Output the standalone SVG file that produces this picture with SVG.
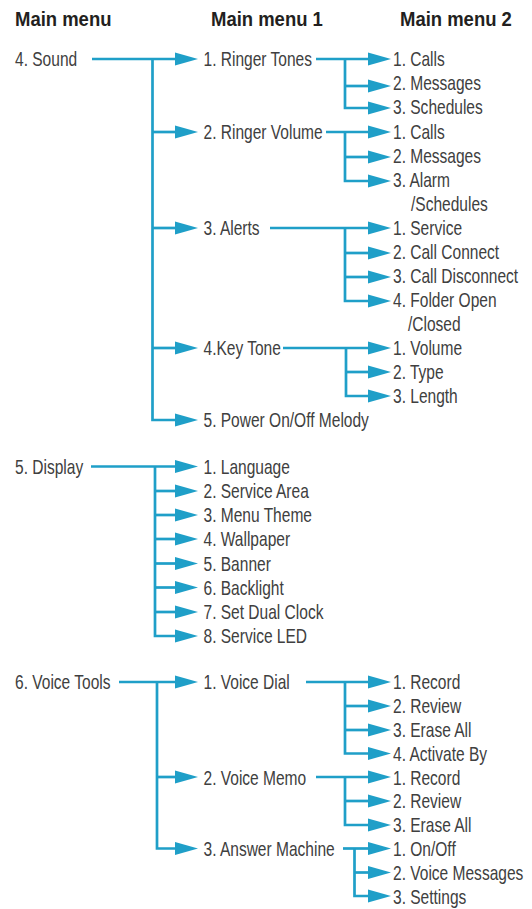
<svg xmlns="http://www.w3.org/2000/svg" width="532" height="909" viewBox="0 0 532 909">
<defs>
<marker id="ah" markerUnits="userSpaceOnUse" markerWidth="24" markerHeight="14" refX="0" refY="6.5" orient="auto" overflow="visible">
<path d="M0,0 L23,6.5 L0,13 Z" fill="#1f9fc8"/>
</marker>
<style>
.c{fill:none;stroke:#1f9fc8;stroke-width:2.7;stroke-linejoin:miter}
.a{marker-end:url(#ah)}
.t{font-family:"Liberation Sans",Arial,sans-serif;font-size:20.5px;fill:#404040}
.h{font-family:"Liberation Sans",Arial,sans-serif;font-size:21px;font-weight:bold;fill:#231f20}
</style>
</defs>
<rect width="532" height="909" fill="#ffffff"/>
<g id="connectors">
<path class="c a" d="M92,59 H175"/>
<path class="c a" d="M152.5,59 V420 H175"/>
<path class="c a" d="M152.5,132 H175"/>
<path class="c a" d="M152.5,228 H175"/>
<path class="c a" d="M152.5,348 H175"/>
<path class="c a" d="M316,59 H368"/>
<path class="c a" d="M345,59 V108 H368"/>
<path class="c a" d="M345,86 H368"/>
<path class="c a" d="M326,132 H368"/>
<path class="c a" d="M345,132 V181 H368"/>
<path class="c a" d="M345,157 H368"/>
<path class="c a" d="M270,228 H368"/>
<path class="c a" d="M345,228 V301 H368"/>
<path class="c a" d="M345,253 H368"/>
<path class="c a" d="M345,277 H368"/>
<path class="c a" d="M283,348 H368"/>
<path class="c a" d="M346,348 V396 H368"/>
<path class="c a" d="M346,372 H368"/>
<path class="c a" d="M91,466.5 H175"/>
<path class="c a" d="M155,466.5 V636 H175"/>
<path class="c a" d="M155,491 H175"/>
<path class="c a" d="M155,515 H175"/>
<path class="c a" d="M155,539 H175"/>
<path class="c a" d="M155,563.5 H175"/>
<path class="c a" d="M155,587.5 H175"/>
<path class="c a" d="M155,612 H175"/>
<path class="c a" d="M119,682 H175"/>
<path class="c a" d="M157,682 V848.5 H175"/>
<path class="c a" d="M157,777 H175"/>
<path class="c a" d="M306,682 H368"/>
<path class="c a" d="M345,682 V753.5 H368"/>
<path class="c a" d="M345,706 H368"/>
<path class="c a" d="M345,730 H368"/>
<path class="c a" d="M316,777 H368"/>
<path class="c a" d="M345,777 V825 H368"/>
<path class="c a" d="M345,801 H368"/>
<path class="c a" d="M343,848.5 H368"/>
<path class="c a" d="M354.5,848.5 V896 H368"/>
<path class="c a" d="M354.5,872.5 H368"/>
</g>
<g id="headers">
<text class="h" transform="translate(15,25.5) scale(0.88,1)">Main menu</text>
<text class="h" transform="translate(211,25.5) scale(0.88,1)">Main menu 1</text>
<text class="h" transform="translate(400,25.5) scale(0.88,1)">Main menu 2</text>
</g>
<g id="n-sound"><text class="t" transform="translate(15,66.3) scale(0.758,1)">4. Sound</text></g>
<g id="n-ringer-tones"><text class="t" transform="translate(203.5,66.3) scale(0.758,1)">1. Ringer Tones</text></g>
<g id="n-rt-calls"><text class="t" transform="translate(393,66.3) scale(0.758,1)">1. Calls</text></g>
<g id="n-rt-messages"><text class="t" transform="translate(393,90.4) scale(0.758,1)">2. Messages</text></g>
<g id="n-rt-schedules"><text class="t" transform="translate(393,114.4) scale(0.758,1)">3. Schedules</text></g>
<g id="n-ringer-volume"><text class="t" transform="translate(203.5,138.5) scale(0.758,1)">2. Ringer Volume</text></g>
<g id="n-rv-calls"><text class="t" transform="translate(393,138.5) scale(0.758,1)">1. Calls</text></g>
<g id="n-rv-messages"><text class="t" transform="translate(393,162.5) scale(0.758,1)">2. Messages</text></g>
<g id="n-rv-alarm"><text class="t" transform="translate(393,186.6) scale(0.758,1)">3. Alarm</text><text class="t" transform="translate(411,210.7) scale(0.758,1)">/Schedules</text></g>
<g id="n-alerts"><text class="t" transform="translate(203.5,234.7) scale(0.758,1)">3. Alerts</text></g>
<g id="n-al-service"><text class="t" transform="translate(393,234.7) scale(0.758,1)">1. Service</text></g>
<g id="n-al-connect"><text class="t" transform="translate(393,258.8) scale(0.758,1)">2. Call Connect</text></g>
<g id="n-al-disconnect"><text class="t" transform="translate(393,282.8) scale(0.758,1)">3. Call Disconnect</text></g>
<g id="n-al-folder"><text class="t" transform="translate(393,306.9) scale(0.758,1)">4. Folder Open</text><text class="t" transform="translate(408,331) scale(0.758,1)">/Closed</text></g>
<g id="n-key-tone"><text class="t" transform="translate(203.5,355) scale(0.758,1)">4.Key Tone</text></g>
<g id="n-kt-volume"><text class="t" transform="translate(393,355) scale(0.758,1)">1. Volume</text></g>
<g id="n-kt-type"><text class="t" transform="translate(393,379.1) scale(0.758,1)">2. Type</text></g>
<g id="n-kt-length"><text class="t" transform="translate(393,403.1) scale(0.758,1)">3. Length</text></g>
<g id="n-power"><text class="t" transform="translate(203.5,427.2) scale(0.758,1)">5. Power On/Off Melody</text></g>
<g id="n-display"><text class="t" transform="translate(15,473.8) scale(0.758,1)">5. Display</text></g>
<g id="n-d-language"><text class="t" transform="translate(203.5,473.8) scale(0.758,1)">1. Language</text></g>
<g id="n-d-service-area"><text class="t" transform="translate(203.5,498) scale(0.758,1)">2. Service Area</text></g>
<g id="n-d-menu-theme"><text class="t" transform="translate(203.5,522.2) scale(0.758,1)">3. Menu Theme</text></g>
<g id="n-d-wallpaper"><text class="t" transform="translate(203.5,546.4) scale(0.758,1)">4. Wallpaper</text></g>
<g id="n-d-banner"><text class="t" transform="translate(203.5,570.6) scale(0.758,1)">5. Banner</text></g>
<g id="n-d-backlight"><text class="t" transform="translate(203.5,594.8) scale(0.758,1)">6. Backlight</text></g>
<g id="n-d-dual-clock"><text class="t" transform="translate(203.5,619) scale(0.758,1)">7. Set Dual Clock</text></g>
<g id="n-d-service-led"><text class="t" transform="translate(203.5,643.2) scale(0.758,1)">8. Service LED</text></g>
<g id="n-voice-tools"><text class="t" transform="translate(15,689.3) scale(0.758,1)">6. Voice Tools</text></g>
<g id="n-voice-dial"><text class="t" transform="translate(203.5,689.3) scale(0.758,1)">1. Voice Dial</text></g>
<g id="n-vd-record"><text class="t" transform="translate(393,689.3) scale(0.758,1)">1. Record</text></g>
<g id="n-vd-review"><text class="t" transform="translate(393,713.1) scale(0.758,1)">2. Review</text></g>
<g id="n-vd-erase"><text class="t" transform="translate(393,736.9) scale(0.758,1)">3. Erase All</text></g>
<g id="n-vd-activate"><text class="t" transform="translate(393,760.7) scale(0.758,1)">4. Activate By</text></g>
<g id="n-voice-memo"><text class="t" transform="translate(203.5,784.5) scale(0.758,1)">2. Voice Memo</text></g>
<g id="n-vm-record"><text class="t" transform="translate(393,784.5) scale(0.758,1)">1. Record</text></g>
<g id="n-vm-review"><text class="t" transform="translate(393,808.3) scale(0.758,1)">2. Review</text></g>
<g id="n-vm-erase"><text class="t" transform="translate(393,832.1) scale(0.758,1)">3. Erase All</text></g>
<g id="n-answer-machine"><text class="t" transform="translate(203.5,855.9) scale(0.758,1)">3. Answer Machine</text></g>
<g id="n-am-onoff"><text class="t" transform="translate(393,855.9) scale(0.758,1)">1. On/Off</text></g>
<g id="n-am-messages"><text class="t" transform="translate(393,879.7) scale(0.758,1)">2. Voice Messages</text></g>
<g id="n-am-settings"><text class="t" transform="translate(393,903.5) scale(0.758,1)">3. Settings</text></g>
</svg>
